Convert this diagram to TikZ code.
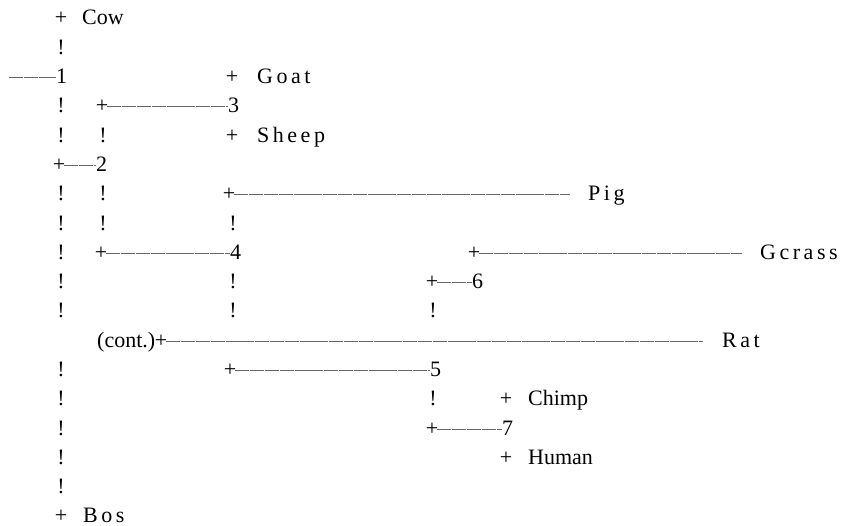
\documentclass[tikz,border=0pt]{standalone}
\usepackage{fontspec}
\setmainfont{Liberation Serif}
\newfontfamily\spfont[LetterSpace=16]{Liberation Serif}
\newcommand\chsize{\fontsize{22pt}{22pt}\selectfont}
\tikzset{
  ch/.style={inner sep=0pt, anchor=base, font=\chsize},
  lbl/.style={inner sep=0pt, anchor=base west, font=\chsize},
  sp/.style={inner sep=0pt, anchor=base west, font=\chsize\spfont},
  br/.style={draw=black!60, line width=1.1pt, dash pattern=on 14pt off 0.8pt},
}
\begin{document}
\begin{tikzpicture}[x=1pt,y=-1pt]
\useasboundingbox (0,0) rectangle (841,526);
% row 0
\node[ch] (pcow) at (61,25.0) {+};
\node[lbl] (cow) at (82,25.0) {Cow};
% row 1
\node[ch] (e1a) at (61,54.3) {!};
% row 2
\coordinate (root) at (9,77.6);
\node[lbl] (n1) at (56,83.6) {1};
\node[ch] (pgoat) at (232,83.6) {+};
\node[sp] (goat) at (257,83.6) {Goat};
% row 3
\node[ch] (e3a) at (61,112.9) {!};
\node[ch] (p3) at (102,112.9) {+};
\node[lbl] (n3) at (228,112.9) {3};
% row 4
\node[ch] (e4a) at (61,142.2) {!};
\node[ch] (e4b) at (103,142.2) {!};
\node[ch] (psheep) at (232,142.2) {+};
\node[sp] (sheep) at (257,142.2) {Sheep};
% row 5
\node[ch] (p2) at (59,171.5) {+};
\node[lbl] (n2) at (96,171.5) {2};
% row 6
\node[ch] (e6a) at (61,200.8) {!};
\node[ch] (e6b) at (103,200.8) {!};
\node[ch] (ppig) at (229,200.8) {+};
\node[sp] (pig) at (588,200.8) {Pig};
% row 7
\node[ch] (e7a) at (61,230.1) {!};
\node[ch] (e7b) at (103,230.1) {!};
\node[ch] (e7c) at (233,230.1) {!};
% row 8
\node[ch] (e8a) at (61,259.4) {!};
\node[ch] (p4) at (101,259.4) {+};
\node[lbl] (n4) at (230,259.4) {4};
\node[ch] (pgc) at (474,259.4) {+};
\node[sp] (gcrass) at (760,259.4) {Gcrass};
% row 9
\node[ch] (e9a) at (61,288.7) {!};
\node[ch] (e9c) at (233,288.7) {!};
\node[ch] (p6) at (432,288.7) {+};
\node[lbl] (n6) at (472,288.7) {6};
% row 10
\node[ch] (e10a) at (61,318.0) {!};
\node[ch] (e10c) at (233,318.0) {!};
\node[ch] (e10d) at (433,318.0) {!};
% row 11
\node[lbl] (cont) at (97,347.3) {(cont.)};
\node[ch] (prat) at (161,347.3) {+};
\node[sp] (rat) at (722,347.3) {Rat};
% row 12
\node[ch] (e12a) at (61,376.6) {!};
\node[ch] (p5) at (230,376.6) {+};
\node[lbl] (n5) at (430,376.6) {5};
% row 13
\node[ch] (e13a) at (61,405.9) {!};
\node[ch] (e13d) at (433,405.9) {!};
\node[ch] (pchimp) at (506,405.9) {+};
\node[lbl] (chimp) at (528,405.9) {Chimp};
% row 14
\node[ch] (e14a) at (61,435.2) {!};
\node[ch] (p7) at (432,435.2) {+};
\node[lbl] (n7) at (502,435.2) {7};
% row 15
\node[ch] (e15a) at (61,464.5) {!};
\node[ch] (phuman) at (506,464.5) {+};
\node[lbl] (human) at (528,464.5) {Human};
% row 16
\node[ch] (e16a) at (61,493.8) {!};
% row 17
\node[ch] (pbos) at (61,522.6) {+};
\node[sp] (bos) at (83,522.6) {Bos};
% branches
\draw[br] (root) -- ([yshift=6pt]n1.base west);
\draw[br] ([xshift=-1pt,yshift=6pt]p3.base east) -- ([yshift=6pt]n3.base west);
\draw[br] ([xshift=-1pt,yshift=6pt]p2.base east) -- ([yshift=6pt]n2.base west);
\draw[br] ([xshift=-1pt,yshift=6pt]ppig.base east) -- ([xshift=-18pt,yshift=6pt]pig.base west);
\draw[br] ([xshift=-1pt,yshift=6pt]p4.base east) -- ([yshift=6pt]n4.base west);
\draw[br] ([xshift=-1pt,yshift=6pt]pgc.base east) -- ([xshift=-18pt,yshift=6pt]gcrass.base west);
\draw[br] ([xshift=-1pt,yshift=6pt]p6.base east) -- ([yshift=6pt]n6.base west);
\draw[br] ([xshift=-1pt,yshift=6pt]prat.base east) -- ([xshift=-19pt,yshift=6pt]rat.base west);
\draw[br] ([xshift=-1pt,yshift=6pt]p5.base east) -- ([yshift=6pt]n5.base west);
\draw[br] ([xshift=-1pt,yshift=6pt]p7.base east) -- ([yshift=6pt]n7.base west);
\end{tikzpicture}
\end{document}
